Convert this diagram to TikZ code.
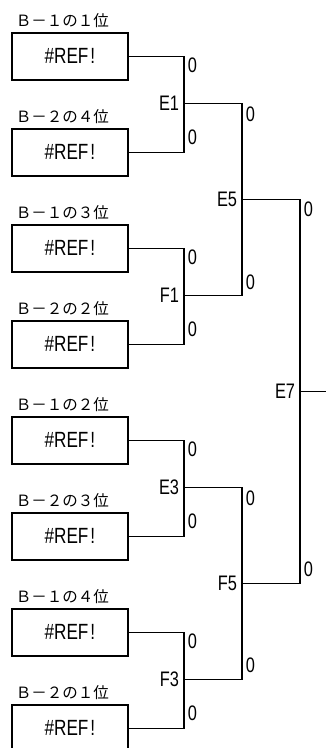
\documentclass[tikz,border=0pt]{standalone}
\usepackage{fontspec}
\setmainfont{Liberation Sans}
\newfontfamily\jpfont{Noto Sans CJK JP}
\newfontfamily\nfont[FakeStretch=0.78]{Liberation Sans}
\newcommand{\refval}{\#REF\kern2pt!}
\begin{document}
\begin{tikzpicture}[x=1pt,y=-1pt,line width=1.8pt,
  entrybox/.style={draw, minimum width=116pt, minimum height=47pt, inner sep=0pt, anchor=north west, font=\nfont\fontsize{22}{22}\selectfont},
  seedlabel/.style={anchor=west, inner sep=0pt, font=\jpfont\fontsize{15.5}{15.5}\selectfont},
  matchlabel/.style={anchor=east, inner sep=0pt, font=\nfont\fontsize{21}{21}\selectfont},
  score/.style={anchor=west, inner sep=0pt, font=\nfont\fontsize{21}{21}\selectfont},
  wire/.style={line width=1.8pt}]
\useasboundingbox (0,0) rectangle (325,748);
% seed labels and boxes
\node[seedlabel] (s1) at (15,21)  {Ｂ－１の１位};
\node[entrybox]  (b1) at (11,32)  {\refval};
\node[seedlabel] (s2) at (15,117) {Ｂ－２の４位};
\node[entrybox]  (b2) at (11,128) {\refval};
\node[seedlabel] (s3) at (15,213) {Ｂ－１の３位};
\node[entrybox]  (b3) at (11,224) {\refval};
\node[seedlabel] (s4) at (15,309) {Ｂ－２の２位};
\node[entrybox]  (b4) at (11,320) {\refval};
\node[seedlabel] (s5) at (15,405) {Ｂ－１の２位};
\node[entrybox]  (b5) at (11,416) {\refval};
\node[seedlabel] (s6) at (15,501) {Ｂ－２の３位};
\node[entrybox]  (b6) at (11,512) {\refval};
\node[seedlabel] (s7) at (15,597) {Ｂ－１の４位};
\node[entrybox]  (b7) at (11,608) {\refval};
\node[seedlabel] (s8) at (15,693) {Ｂ－２の１位};
\node[entrybox]  (b8) at (11,704) {\refval};
% junctions
\coordinate (j1) at (184,103.5);
\coordinate (j2) at (184,295.5);
\coordinate (j3) at (184,487.5);
\coordinate (j4) at (184,679.5);
\coordinate (j5) at (242,199.5);
\coordinate (j6) at (242,583.5);
\coordinate (j7) at (300,391.5);
\coordinate (out) at (326,391.5);
% connectors
\draw[wire] (b1.east) -| (j1) |- (b2.east);
\draw[wire] (b3.east) -| (j2) |- (b4.east);
\draw[wire] (b5.east) -| (j3) |- (b6.east);
\draw[wire] (b7.east) -| (j4) |- (b8.east);
\draw[wire] (j1) -| (j5) |- (j2);
\draw[wire] (j3) -| (j6) |- (j4);
\draw[wire] (j5) -| (j7) |- (j6);
\draw[wire] (j7) -- (out);
% match labels
\node[matchlabel] (e1) at ([xshift=-4pt]j1) {E1};
\node[matchlabel] (f1) at ([xshift=-4pt]j2) {F1};
\node[matchlabel] (e3) at ([xshift=-4pt]j3) {E3};
\node[matchlabel] (f3) at ([xshift=-4pt]j4) {F3};
\node[matchlabel] (e5) at ([xshift=-4pt]j5) {E5};
\node[matchlabel] (f5) at ([xshift=-4pt]j6) {F5};
\node[matchlabel] (e7) at ([xshift=-4pt]j7) {E7};
% scores
\node[score] (z1) at (187,65.5)  {0};
\node[score] (z2) at (187,137.5) {0};
\node[score] (z3) at (187,257.5) {0};
\node[score] (z4) at (187,329.5) {0};
\node[score] (z5) at (187,449.5) {0};
\node[score] (z6) at (187,521.5) {0};
\node[score] (z7) at (187,641.5) {0};
\node[score] (z8) at (187,713.5) {0};
\node[score] (z9) at (245,114)  {0};
\node[score] (z10) at (245,282) {0};
\node[score] (z11) at (245,498) {0};
\node[score] (z12) at (245,665.5) {0};
\node[score] (z13) at (303,209.5) {0};
\node[score] (z14) at (303,569.5) {0};
\end{tikzpicture}
\end{document}
